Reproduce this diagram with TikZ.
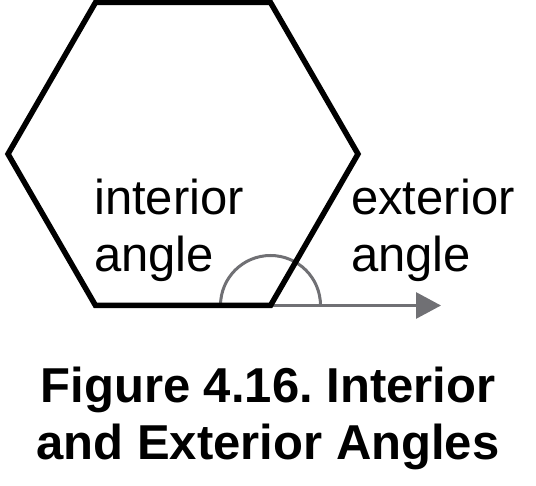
\documentclass[tikz,border=0pt]{standalone}
\usepackage{fontspec}
\setmainfont{Liberation Sans}
\usetikzlibrary{arrows.meta,positioning}
\frenchspacing
\definecolor{markgray}{RGB}{112,112,116}
\tikzset{
  hexedge/.style={line width=5.5pt, black, line join=miter},
  anglemark/.style={line width=3pt, markgray},
  lbl/.style={inner sep=0pt, align=left, font=\fontsize{49}{57}\selectfont},
  caption/.style={inner sep=0pt, align=center, font=\fontsize{49}{57}\selectfont\bfseries}
}

\begin{document}
\begin{tikzpicture}[x=1pt,y=-1pt]
  \useasboundingbox (0,0) rectangle (536,486);
  % Hexagon corners
  \coordinate (tl) at (95.5,2.5);
  \coordinate (tr) at (270.5,2.5);
  \coordinate (r)  at (358,154);
  \coordinate (br) at (270.5,305.5);
  \coordinate (bl) at (95.5,305.5);
  \coordinate (l)  at (8,154);
  \coordinate (tip) at (441,305.5);

  % Angle marks
  \draw[anglemark] ([xshift=50pt]br) arc[start angle=0, end angle=180, radius=50pt];
  \draw[anglemark, -{Triangle[length=25pt,width=26pt]}] (br) -- (tip);

  % Hexagon
  \draw[hexedge] (tl) -- (tr) -- (r) -- (br) -- (bl) -- (l) -- cycle;

  % Labels (base anchor = last line)
  \node[lbl, anchor=base west] (inner) at (94,272) {interior\\angle};
  \node[lbl, anchor=base west] (outer) at (351,272) {exterior\\angle};
  \node[caption, anchor=base] (title) at (268,460) {Figure 4.16. Interior\\and Exterior Angles};
\end{tikzpicture}
\end{document}
